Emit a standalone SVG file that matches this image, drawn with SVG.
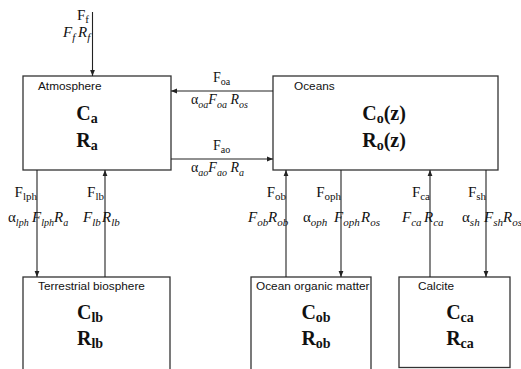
<svg xmlns="http://www.w3.org/2000/svg" width="521" height="369" viewBox="0 0 521 369">
<defs>
<style>
.box{fill:#fff;stroke:#333;stroke-width:1.3}
.ln{fill:none;stroke:#222;stroke-width:1.1}
.lbl{font-family:"Liberation Serif","Times New Roman","DejaVu Serif",serif;font-size:15px;fill:#111}
.sm{font-size:14px}
.it{font-style:italic}
.sub{font-size:11px}
.ssub{font-size:10px}
.end{text-anchor:end}
.title{font-family:"Liberation Sans",Arial,sans-serif;font-size:11.8px;fill:#111}
.big{font-family:"Liberation Serif","Times New Roman","DejaVu Serif",serif;font-size:20px;font-weight:bold;fill:#111;text-anchor:middle}
.bsub{font-size:14px}
</style>
<marker id="ah" viewBox="0 0 10 10" refX="10" refY="5" markerWidth="6" markerHeight="6" orient="auto" markerUnits="userSpaceOnUse">
<path d="M0,1 L10,5 L0,9z" fill="#222"/>
</marker>
</defs>
<rect width="521" height="369" fill="#fff"/>

<g id="atmosphere">
<rect class="box" x="23" y="76" width="148" height="94"/>
<text class="title" x="38" y="90">Atmosphere</text>
<text class="big" x="87" y="120">C<tspan class="bsub" dy="3">a</tspan></text>
<text class="big" x="87" y="147">R<tspan class="bsub" dy="3">a</tspan></text>
</g>

<g id="oceans">
<rect class="box" x="273" y="76" width="225" height="94"/>
<text class="title" x="294" y="90">Oceans</text>
<text class="big" x="384" y="120">C<tspan class="bsub" dy="3">o</tspan><tspan dy="-3">(z)</tspan></text>
<text class="big" x="384" y="147">R<tspan class="bsub" dy="3">o</tspan><tspan dy="-3">(z)</tspan></text>
</g>

<g id="terrestrial-biosphere">
<rect class="box" x="23" y="277" width="147" height="100"/>
<text class="title" x="38" y="290">Terrestrial biosphere</text>
<text class="big" x="90" y="319">C<tspan class="bsub" dy="3">lb</tspan></text>
<text class="big" x="90" y="345">R<tspan class="bsub" dy="3">lb</tspan></text>
</g>

<g id="ocean-organic-matter">
<rect class="box" x="251" y="277" width="120" height="100"/>
<text class="title" x="256" y="290">Ocean organic matter</text>
<text class="big" x="316" y="319">C<tspan class="bsub" dy="3">ob</tspan></text>
<text class="big" x="316" y="345">R<tspan class="bsub" dy="3">ob</tspan></text>
</g>

<g id="calcite">
<rect class="box" x="399" y="277" width="111" height="90.5"/>
<text class="title" x="418" y="290">Calcite</text>
<text class="big" x="460" y="319">C<tspan class="bsub" dy="3">ca</tspan></text>
<text class="big" x="460" y="345">R<tspan class="bsub" dy="3">ca</tspan></text>
</g>

<g id="connectors">
<line class="ln" x1="92.5" y1="12" x2="92.5" y2="76" marker-end="url(#ah)"/>
<line class="ln" x1="273" y1="91" x2="171" y2="91" marker-end="url(#ah)"/>
<line class="ln" x1="171" y1="159" x2="273" y2="159" marker-end="url(#ah)"/>
<line class="ln" x1="37" y1="170" x2="37" y2="277" marker-end="url(#ah)"/>
<line class="ln" x1="105" y1="277" x2="105" y2="170" marker-end="url(#ah)"/>
<line class="ln" x1="286" y1="277" x2="286" y2="170" marker-end="url(#ah)"/>
<line class="ln" x1="341" y1="170" x2="341" y2="277" marker-end="url(#ah)"/>
<line class="ln" x1="430" y1="277" x2="430" y2="170" marker-end="url(#ah)"/>
<line class="ln" x1="486" y1="170" x2="486" y2="277" marker-end="url(#ah)"/>

<text class="lbl end" x="89" y="19.5">F<tspan class="sub" dy="3">f</tspan></text>
<text class="lbl it" x="63" y="37">F<tspan class="sub" dy="3.5">f</tspan><tspan x="78" dy="-3.5">R</tspan><tspan class="sub" dy="3.5">f</tspan></text>

<text class="lbl sm" x="213" y="82">F<tspan class="ssub" dy="3">oa</tspan></text>
<text class="lbl sm" x="191" y="104">α<tspan class="ssub it" dy="3.5">oa</tspan><tspan class="it" dy="-3.5">F</tspan><tspan class="ssub it" dy="3.5">oa</tspan><tspan class="it" dy="-3.5"> R</tspan><tspan class="ssub it" dy="3.5">os</tspan></text>
<text class="lbl sm" x="213" y="150">F<tspan class="ssub" dy="3">ao</tspan></text>
<text class="lbl sm" x="191" y="172">α<tspan class="ssub it" dy="3.5">ao</tspan><tspan class="it" dy="-3.5">F</tspan><tspan class="ssub it" dy="3.5">ao</tspan><tspan class="it" dy="-3.5"> R</tspan><tspan class="ssub it" dy="3.5">a</tspan></text>

<text class="lbl end" x="37" y="197">F<tspan class="sub" dy="3">lph</tspan></text>
<text class="lbl" x="8" y="222">α<tspan class="ssub it" dy="3.5">lph</tspan><tspan class="it" x="32" dy="-3.5">F</tspan><tspan class="ssub it" dy="3.5">lph</tspan><tspan class="it" x="54" dy="-3.5">R</tspan><tspan class="ssub it" dy="3.5">a</tspan></text>
<text class="lbl end" x="104" y="197">F<tspan class="sub" dy="3">lb</tspan></text>
<text class="lbl it" x="83" y="222">F<tspan class="sub" dy="3.5">lb</tspan><tspan x="102" dy="-3.5">R</tspan><tspan class="sub" dy="3.5">lb</tspan></text>

<text class="lbl end" x="286" y="197">F<tspan class="sub" dy="3">ob</tspan></text>
<text class="lbl it" x="248" y="222">F<tspan class="sub" dy="3.5">ob</tspan><tspan x="268" dy="-3.5">R</tspan><tspan class="sub" dy="3.5">ob</tspan></text>
<text class="lbl end" x="341" y="197">F<tspan class="sub" dy="3">oph</tspan></text>
<text class="lbl" x="303" y="222">α<tspan class="sub it" dy="3.5">oph</tspan><tspan class="it" x="334" dy="-3.5">F</tspan><tspan class="sub it" dy="3.5">oph</tspan><tspan class="it" x="361" dy="-3.5">R</tspan><tspan class="sub it" dy="3.5">os</tspan></text>

<text class="lbl end" x="430" y="197">F<tspan class="sub" dy="3">ca</tspan></text>
<text class="lbl it" x="402" y="222">F<tspan class="sub" dy="3.5">ca</tspan><tspan x="424" dy="-3.5">R</tspan><tspan class="sub" dy="3.5">ca</tspan></text>
<text class="lbl end" x="486" y="197">F<tspan class="sub" dy="3">sh</tspan></text>
<text class="lbl" x="462" y="222">α<tspan class="sub it" dy="3.5">sh</tspan><tspan class="it" x="484" dy="-3.5">F</tspan><tspan class="sub it" dy="3.5">sh</tspan><tspan class="it" x="503" dy="-3.5">R</tspan><tspan class="sub it" dy="3.5">os</tspan></text>
</g>
</svg>
